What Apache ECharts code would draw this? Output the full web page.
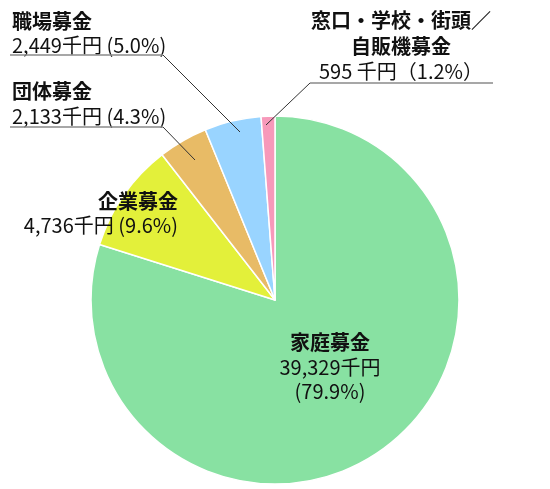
<!DOCTYPE html>
<html>
<head>
<meta charset="utf-8">
<script src="https://cdn.jsdelivr.net/npm/echarts@6/dist/echarts.min.js"></script>
<style>
html,body{margin:0;padding:0;background:#fff;}
#chart{width:550px;height:489px;}
</style>
</head>
<body>
<div id="chart"></div>
<script>
// Data
var categories = ['家庭募金', '企業募金', '団体募金', '職場募金', '窓口・学校・街頭／\n自販機募金'];
var values = [39329, 4736, 2133, 2449, 595];
var amountLabels = ['39,329千円', '4,736千円', '2,133千円', '2,449千円', '595 千円'];
var percentLabels = ['(79.9%)', '(9.6%)', '(4.3%)', '(5.0%)', '（1.2%）'];
var colors = ['#88E1A2', '#E3F03A', '#E8BB66', '#99D4FF', '#F799BA'];

var FONT = '"Noto Sans CJK JP", "Noto Sans", sans-serif';
var chart = echarts.init(document.getElementById('chart'), null, {renderer: 'canvas'});

function txt(x, y, text, bold, align) {
  return {
    type: 'text', x: x, y: y, silent: true, z: 100,
    style: {
      text: text, fill: '#111', font: (bold ? 'bold ' : '') + '20px ' + FONT,
      align: align || 'left', verticalAlign: 'middle'
    }
  };
}
function ln(pts, color, w) {
  return {
    type: 'polyline', silent: true, z: 100,
    shape: {points: pts},
    style: {stroke: color, lineWidth: w, fill: null}
  };
}
var catLines = categories.map(function (c) { return c.split('\n'); });

var graphics = [
  // 家庭
  txt(330, 342, catLines[0][0], true, 'center'),
  txt(330, 367, amountLabels[0], false, 'center'),
  txt(330, 391, percentLabels[0], false, 'center'),
  // 企業
  txt(178, 201, catLines[1][0], true, 'right'),
  txt(178, 225, amountLabels[1] + ' ' + percentLabels[1], false, 'right'),
  // 団体
  txt(12, 91, catLines[2][0], true, 'left'),
  txt(12, 116, amountLabels[2] + ' ' + percentLabels[2], false, 'left'),
  // 職場
  txt(12, 21, catLines[3][0], true, 'left'),
  txt(12, 45, amountLabels[3] + ' ' + percentLabels[3], false, 'left'),
  // 窓口
  txt(401, 20, catLines[4][0], true, 'center'),
  txt(401, 46, catLines[4][1], true, 'center'),
  txt(401, 71, amountLabels[4] + percentLabels[4], false, 'center'),
  // leader lines
  ln([[10, 55], [163, 55]], '#8a8a8a', 1.5),
  ln([[163, 55], [240, 132]], '#333', 1),
  ln([[10, 127], [163, 127]], '#8a8a8a', 1.5),
  ln([[163, 127], [195, 160]], '#333', 1),
  ln([[310, 83], [493, 83]], '#8a8a8a', 1.5),
  ln([[310, 83], [266, 125]], '#333', 1)
];

chart.setOption({
  backgroundColor: '#fff',
  animation: false,
  series: [{
    type: 'pie',
    center: [275, 300],
    radius: 184,
    startAngle: 90,
    clockwise: true,
    silent: true,
    z: 1,
    label: {show: false},
    labelLine: {show: false},
    itemStyle: {borderColor: '#fff', borderWidth: 1.5},
    data: values.map(function (v, i) {
      return {name: categories[i], value: v, itemStyle: {color: colors[i]}};
    })
  }],
  graphic: graphics
});
</script>
</body>
</html>
